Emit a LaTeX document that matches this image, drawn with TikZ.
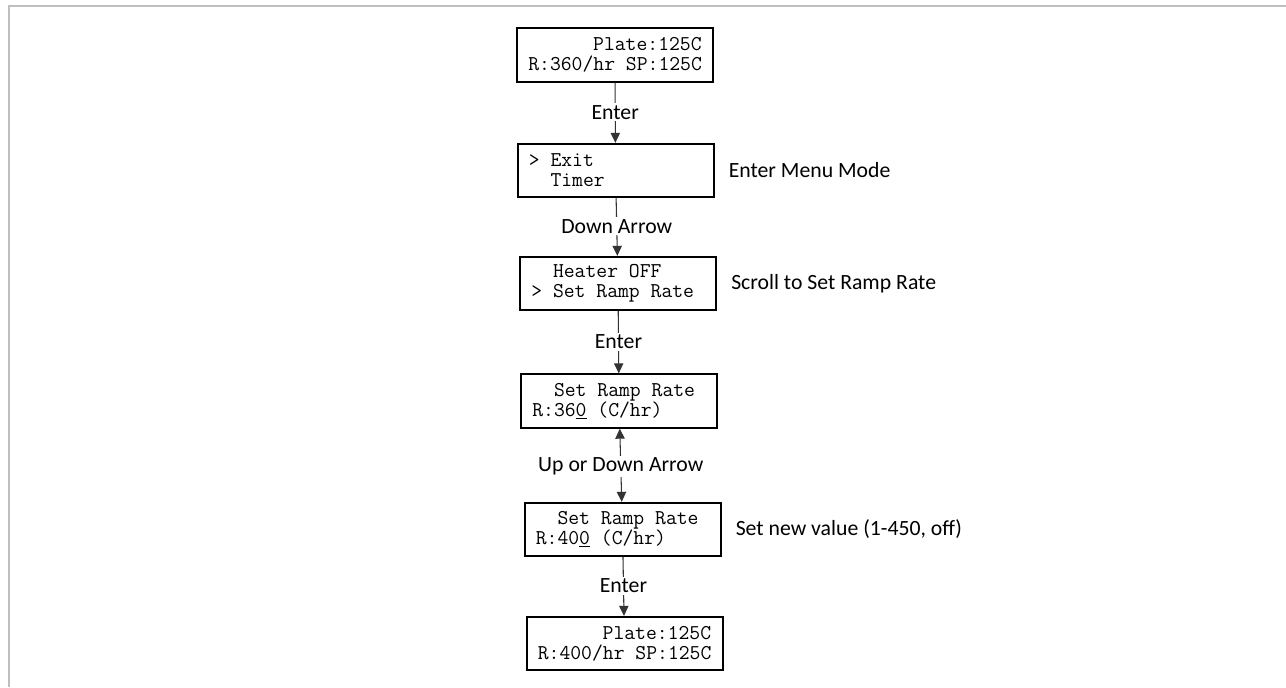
\documentclass[tikz,border=0pt]{standalone}
\usepackage{fontspec}
\newfontfamily\labelfont{Carlito}
\usetikzlibrary{arrows.meta}
% typewriter text for the display screens
\newcommand\screenfont{\ttfamily\fontsize{15.8}{15}\selectfont}
% one fixed character cell of blank space
\newcommand\cellgap{\hspace*{\fontcharwd\font`\0}}
\begin{document}
\begin{tikzpicture}[x=0.75pt,y=-0.75pt,
  >={Triangle[width=7pt,length=7.5pt]},
  lcd/.style={draw, line width=1.5pt, minimum height=40pt, text width=130pt,
    inner xsep=8.5pt, inner ysep=0pt, align=left, font=\screenfont},
  lcdr/.style={lcd, align=right},
  key/.style={fill=white, inner sep=1.5pt, pos=0.49,
    font=\labelfont\fontsize{16.3}{18}\selectfont},
  note/.style={anchor=west, inner sep=0pt,
    font=\labelfont\fontsize{16.3}{18}\selectfont},
  flow/.style={->, draw=black!80, line width=0.8pt},
  twoway/.style={<->, draw=black!80, line width=0.8pt},
]
\useasboundingbox (0,0) rectangle (1286,687);
% frame edges
\draw[line width=1.5pt, draw=black!25] (9,687) -- (9,6) -- (1286,6);

% display screens
\node[lcdr] (b1) at (615,55) {Plate:125C\\R:360/hr\cellgap SP:125C};
\node[lcd] (b2) at (615.5,170.5) {>\cellgap Exit\\\cellgap\cellgap Timer};
\node[lcd] (b3) at (618,283.5)
  {\cellgap\cellgap Heater\cellgap OFF\\>\cellgap Set\cellgap Ramp\cellgap Rate};
\node[lcd] (b4) at (619,401)
  {\cellgap\cellgap Set\cellgap Ramp\cellgap Rate\\R:36\underline{0}\cellgap (C/hr)};
\node[lcd] (b5) at (622.5,529.5)
  {\cellgap\cellgap Set\cellgap Ramp\cellgap Rate\\R:40\underline{0}\cellgap (C/hr)};
\node[lcdr] (b6) at (624.5,643.5) {Plate:125C\\R:400/hr\cellgap SP:125C};

% key presses
\draw[flow] (b1) -- node[key]{Enter} (b2);
\draw[flow] (b2) -- node[key]{Down Arrow} (b3);
\draw[flow] (b3) -- node[key]{Enter} (b4);
\draw[twoway] (b4) -- node[key, pos=0.52]{Up or Down Arrow} (b5);
\draw[flow] (b5) -- node[key]{Enter} (b6);

% side notes
\node[note] at ([xshift=10.5pt]b2.east) {Enter Menu Mode};
\node[note] at ([xshift=10.5pt]b3.east) {Scroll to Set Ramp Rate};
\node[note] at ([xshift=10.5pt]b5.east) {Set new value (1-450, off)};
\end{tikzpicture}
\end{document}
